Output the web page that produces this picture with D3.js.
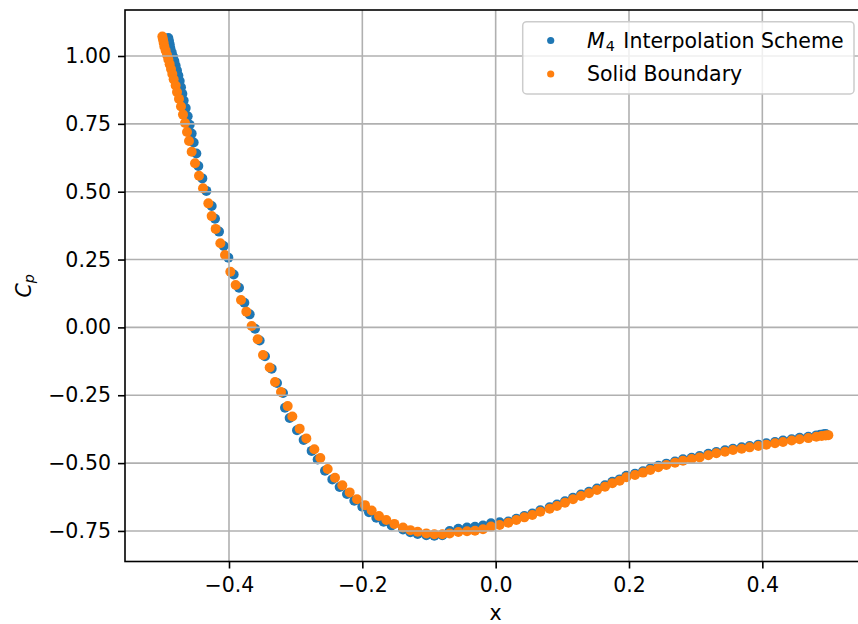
<!DOCTYPE html>
<html>
<head>
<meta charset="utf-8">
<script src="https://cdn.jsdelivr.net/npm/d3@7"></script>
<style>
  body { margin: 0; background: #fff; }
  svg { display: block; }
  text { font-family: "DejaVu Sans", sans-serif; fill: #000; }
</style>
</head>
<body>
<svg id="chart" width="858" height="624"></svg>
<script>
// Surface pressure coefficient along the chord, two boundary treatments
const interpX = [-0.491,-0.490,-0.489,-0.488,-0.486,-0.484,-0.482,-0.480,-0.478,-0.476,-0.474,-0.472,-0.470,-0.468,-0.465,-0.462,-0.459,-0.456,-0.453,-0.449,-0.446,-0.440,-0.434,-0.426,-0.421,-0.415,-0.408,-0.401,-0.393,-0.385,-0.377,-0.369,-0.361,-0.354,-0.346,-0.336,-0.328,-0.319,-0.316,-0.309,-0.298,-0.288,-0.276,-0.267,-0.256,-0.245,-0.234,-0.223,-0.212,-0.200,-0.190,-0.179,-0.168,-0.156,-0.139,-0.128,-0.117,-0.104,-0.092,-0.080,-0.069,-0.056,-0.043,-0.031,-0.019,-0.007,0.006,0.019,0.031,0.043,0.055,0.067,0.081,0.092,0.104,0.116,0.128,0.140,0.152,0.164,0.175,0.186,0.196,0.209,0.221,0.232,0.244,0.256,0.269,0.281,0.294,0.306,0.319,0.331,0.344,0.356,0.369,0.381,0.394,0.406,0.419,0.431,0.444,0.456,0.469,0.481,0.487,0.492,0.495];
const interpCp = [1.066,1.055,1.043,1.029,1.014,0.998,0.981,0.964,0.946,0.928,0.908,0.885,0.861,0.836,0.808,0.778,0.747,0.714,0.681,0.641,0.595,0.549,0.503,0.447,0.400,0.353,0.300,0.257,0.195,0.146,0.091,0.048,-0.005,-0.048,-0.106,-0.152,-0.205,-0.242,-0.296,-0.334,-0.379,-0.415,-0.455,-0.487,-0.528,-0.560,-0.588,-0.614,-0.639,-0.661,-0.681,-0.701,-0.716,-0.730,-0.745,-0.755,-0.761,-0.766,-0.768,-0.766,-0.750,-0.742,-0.737,-0.735,-0.730,-0.722,-0.718,-0.715,-0.705,-0.695,-0.686,-0.674,-0.663,-0.653,-0.641,-0.628,-0.616,-0.606,-0.594,-0.582,-0.569,-0.560,-0.547,-0.539,-0.530,-0.520,-0.510,-0.502,-0.494,-0.486,-0.480,-0.474,-0.466,-0.459,-0.453,-0.447,-0.442,-0.437,-0.432,-0.427,-0.422,-0.417,-0.412,-0.407,-0.403,-0.398,-0.396,-0.394,-0.393];

const solidX = [-0.500,-0.499,-0.498,-0.497,-0.495,-0.493,-0.491,-0.489,-0.487,-0.485,-0.483,-0.480,-0.478,-0.475,-0.472,-0.469,-0.466,-0.463,-0.460,-0.456,-0.451,-0.445,-0.439,-0.431,-0.426,-0.420,-0.413,-0.406,-0.398,-0.390,-0.382,-0.374,-0.366,-0.357,-0.349,-0.339,-0.331,-0.322,-0.312,-0.305,-0.294,-0.284,-0.272,-0.263,-0.252,-0.241,-0.230,-0.219,-0.208,-0.196,-0.186,-0.175,-0.164,-0.152,-0.139,-0.128,-0.117,-0.104,-0.092,-0.080,-0.069,-0.056,-0.043,-0.031,-0.019,-0.007,0.006,0.019,0.031,0.043,0.055,0.067,0.081,0.092,0.104,0.116,0.128,0.140,0.152,0.164,0.175,0.186,0.196,0.209,0.221,0.232,0.244,0.256,0.269,0.281,0.294,0.306,0.319,0.331,0.344,0.356,0.369,0.381,0.394,0.406,0.419,0.431,0.444,0.456,0.469,0.481,0.489,0.495,0.499];
const solidCp = [1.072,1.061,1.049,1.035,1.020,1.004,0.987,0.970,0.952,0.934,0.914,0.891,0.867,0.842,0.814,0.784,0.753,0.720,0.687,0.647,0.605,0.559,0.513,0.457,0.410,0.363,0.310,0.267,0.205,0.156,0.101,0.058,0.005,-0.044,-0.102,-0.148,-0.201,-0.238,-0.290,-0.328,-0.373,-0.409,-0.449,-0.481,-0.522,-0.554,-0.582,-0.608,-0.633,-0.655,-0.675,-0.695,-0.710,-0.724,-0.737,-0.747,-0.753,-0.759,-0.762,-0.762,-0.759,-0.754,-0.751,-0.749,-0.744,-0.734,-0.728,-0.720,-0.710,-0.700,-0.691,-0.679,-0.668,-0.658,-0.646,-0.633,-0.621,-0.611,-0.599,-0.587,-0.574,-0.565,-0.552,-0.544,-0.535,-0.525,-0.515,-0.507,-0.499,-0.491,-0.485,-0.479,-0.471,-0.464,-0.458,-0.452,-0.447,-0.442,-0.437,-0.432,-0.427,-0.422,-0.417,-0.412,-0.408,-0.403,-0.400,-0.398,-0.397];

const xTickValues = [-0.4, -0.2, 0.0, 0.2, 0.4];
const xTickLabels = ["\u22120.4", "\u22120.2", "0.0", "0.2", "0.4"];
const yTickValues = [-0.75, -0.5, -0.25, 0.0, 0.25, 0.5, 0.75, 1.0];
const yTickLabels = ["\u22120.75", "\u22120.50", "\u22120.25", "0.00", "0.25", "0.50", "0.75", "1.00"];

const seriesColors = ["#1f77b4", "#ff7f0e"];
const legendLabels = [
  { math: "M", sub: "4", rest: " Interpolation Scheme" },
  { math: "", sub: "", rest: "Solid Boundary" }
];

const FONT = 20.5;
const plot = { left: 125, right: 863, top: 10, bottom: 561.5 };

const svg = d3.select("#chart");
svg.append("rect").attr("width", 858).attr("height", 624).attr("fill", "#fff");

const x = d3.scaleLinear().domain([-0.556, 0.551]).range([plot.left, plot.right]);
const y = d3.scaleLinear().domain([-0.8626, 1.1695]).range([plot.bottom, plot.top]);

svg.append("defs").append("clipPath").attr("id", "plotClip")
  .append("rect")
  .attr("x", plot.left).attr("y", plot.top)
  .attr("width", plot.right - plot.left).attr("height", plot.bottom - plot.top);

// scatter markers (blue first, orange on top)
const series = [
  { xs: interpX, ys: interpCp, color: seriesColors[0] },
  { xs: solidX, ys: solidCp, color: seriesColors[1] }
];
const pts = svg.append("g").attr("clip-path", "url(#plotClip)");
series.forEach(s => {
  pts.append("g").selectAll("circle")
    .data(s.xs.map((v, i) => [v, s.ys[i]]))
    .join("circle")
    .attr("cx", d => x(d[0]))
    .attr("cy", d => y(d[1]))
    .attr("r", 5.0)
    .attr("fill", s.color);
});

// grid lines drawn above the markers
const grid = svg.append("g").attr("stroke", "#b0b0b0").attr("stroke-width", 1.6);
grid.selectAll("line.gx").data(xTickValues).join("line")
  .attr("x1", d => x(d)).attr("x2", d => x(d))
  .attr("y1", plot.top).attr("y2", plot.bottom);
grid.selectAll("line.gy").data(yTickValues).join("line")
  .attr("x1", plot.left).attr("x2", plot.right)
  .attr("y1", d => y(d)).attr("y2", d => y(d));

// axes
const xAxis = d3.axisBottom(x).tickValues(xTickValues)
  .tickFormat((d, i) => xTickLabels[i]).tickSize(7).tickPadding(9);
const yAxis = d3.axisLeft(y).tickValues(yTickValues)
  .tickFormat((d, i) => yTickLabels[i]).tickSize(7).tickPadding(7);

const gx = svg.append("g").attr("transform", `translate(0,${plot.bottom})`).call(xAxis);
const gy = svg.append("g").attr("transform", `translate(${plot.left},0)`).call(yAxis);
[gx, gy].forEach(g => {
  g.select(".domain").remove();
  g.selectAll(".tick line").attr("stroke", "#000").attr("stroke-width", 1.6);
  g.selectAll(".tick text").attr("font-size", FONT).attr("font-family", "DejaVu Sans").attr("fill", "#000");
});

// spines
svg.append("rect")
  .attr("x", plot.left).attr("y", plot.top)
  .attr("width", plot.right - plot.left).attr("height", plot.bottom - plot.top)
  .attr("fill", "none").attr("stroke", "#000").attr("stroke-width", 1.6);

// axis labels
svg.append("text")
  .attr("x", x(0)).attr("y", 619.5)
  .attr("text-anchor", "middle").attr("font-size", FONT)
  .text("x");

const yl = svg.append("text")
  .attr("transform", `translate(31,${(plot.top + plot.bottom) / 2}) rotate(-90)`)
  .attr("text-anchor", "middle").attr("font-size", FONT);
yl.append("tspan").attr("font-style", "italic").text("C");
yl.append("tspan").attr("font-style", "italic").attr("font-size", FONT * 0.7)
  .attr("dy", 3).text("p");

// legend
const lg = svg.append("g");
lg.append("rect")
  .attr("x", 522.7).attr("y", 21.7).attr("width", 331.3).attr("height", 72.3)
  .attr("rx", 4).attr("ry", 4)
  .attr("fill", "#fff").attr("fill-opacity", 0.8)
  .attr("stroke", "#cccccc").attr("stroke-width", 1.5);

const rowY = [40.5, 74];
legendLabels.forEach((lab, i) => {
  lg.append("circle").attr("cx", 550.7).attr("cy", rowY[i]).attr("r", 3.6).attr("fill", seriesColors[i]);
  const t = lg.append("text").attr("x", 587).attr("y", rowY[i] + 7).attr("font-size", FONT);
  if (lab.math) {
    t.append("tspan").attr("font-style", "italic").text(lab.math);
    t.append("tspan").attr("font-size", FONT * 0.7).attr("dy", 3).attr("dx", 1).text(lab.sub);
    t.append("tspan").attr("dy", -3).attr("dx", 2).text(lab.rest);
  } else {
    t.text(lab.rest);
  }
});
</script>
</body>
</html>
